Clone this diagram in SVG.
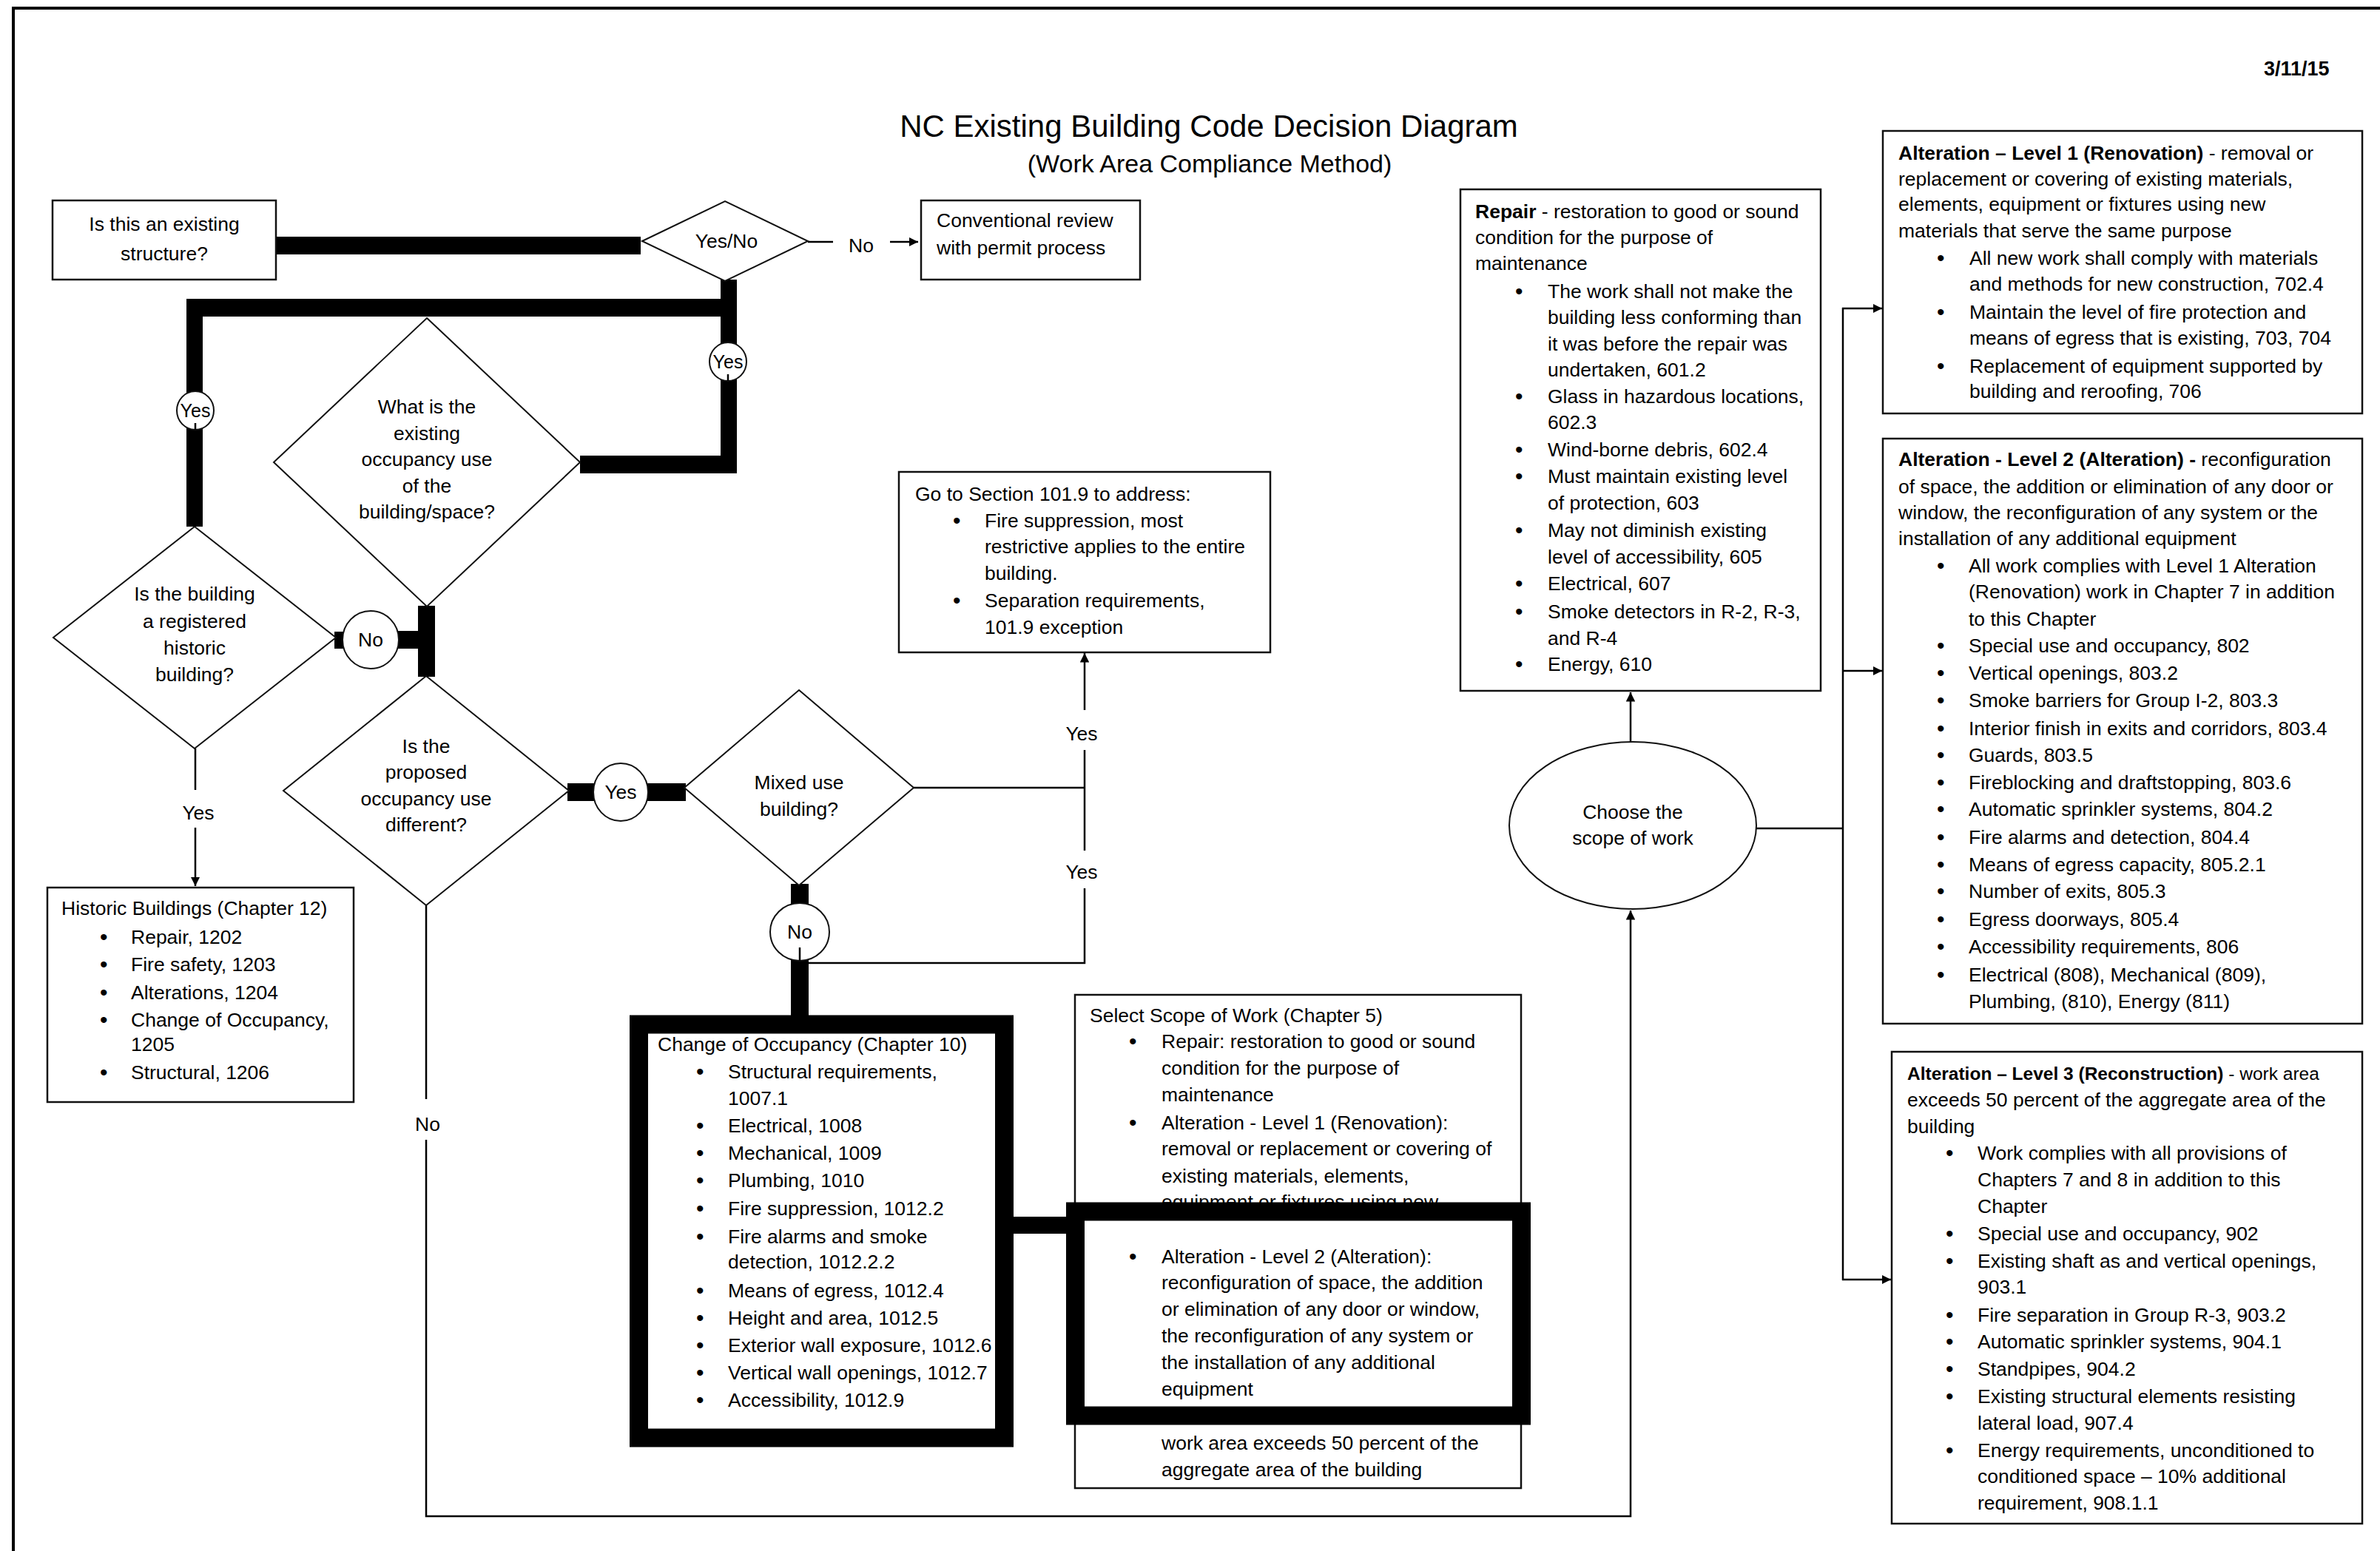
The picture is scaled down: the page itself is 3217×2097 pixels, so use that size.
<svg xmlns="http://www.w3.org/2000/svg" width="3217" height="2097" viewBox="0 0 3217 2097">
<defs>
<style>
.t{font-family:"Liberation Sans",Arial,sans-serif;font-size:26.5px;fill:#000}
.c{text-anchor:middle}
.b{font-weight:bold}
.u{font-size:30px}
.box{fill:#fff;stroke:#111;stroke-width:2.5}
.dia{fill:#fff;stroke:#111;stroke-width:2}
.ln{stroke:#000;stroke-width:2.5;fill:none}
.tk{fill:#000}
.thickbox{fill:#fff;stroke:#000;stroke-width:25}
</style>
<marker id="ah" viewBox="0 0 10 10" refX="10" refY="5" markerWidth="5" markerHeight="5" markerUnits="strokeWidth" orient="auto"><path d="M0,0 L10,5 L0,10 z" fill="#000"/></marker>
</defs>
<rect x="0" y="0" width="3217" height="2097" fill="#fff"/>
<g id="frame">
<line x1="18" y1="11" x2="3217" y2="11" stroke="#000" stroke-width="4"/>
<line x1="18" y1="9" x2="18" y2="2097" stroke="#000" stroke-width="4"/>
</g>
<g id="title">
<text class="t c" x="1634" y="185" style="font-size:42px">NC Existing Building Code Decision Diagram</text>
<text class="t c" x="1635" y="233" style="font-size:34px">(Work Area Compliance Method)</text>
<text class="t b" x="3060" y="102" style="font-size:27px">3/11/15</text>
</g>
<g id="connectors">
<rect class="tk" x="373" y="320" width="493" height="24"/>
<rect class="tk" x="974" y="378" width="22" height="50"/>
<rect class="tk" x="252" y="404" width="744" height="24"/>
<rect class="tk" x="252" y="404" width="22" height="308"/>
<rect class="tk" x="974" y="404" width="22" height="236"/>
<rect class="tk" x="784" y="616" width="212" height="24"/>
<rect class="tk" x="565" y="819" width="23" height="96"/>
<rect class="tk" x="452" y="854" width="14" height="23"/>
<rect class="tk" x="536" y="853" width="30" height="24"/>
<rect class="tk" x="767" y="1059" width="38" height="24"/>
<rect class="tk" x="874" y="1059" width="53" height="24"/>
<rect class="tk" x="1069" y="1195" width="24" height="30"/>
<rect class="tk" x="1069" y="1295" width="24" height="80"/>
<rect class="tk" x="1368" y="1645" width="75" height="23"/>
<line class="ln" x1="1092" y1="327" x2="1126" y2="327"/>
<line class="ln" x1="1203" y1="327" x2="1241" y2="327" marker-end="url(#ah)"/>
<line class="ln" x1="264" y1="1012" x2="264" y2="1068"/>
<line class="ln" x1="264" y1="1119" x2="264" y2="1198" marker-end="url(#ah)"/>
<line class="ln" x1="576" y1="1224" x2="576" y2="1486"/>
<polyline class="ln" points="576,1541 576,2050 2204,2050 2204,1231" marker-end="url(#ah)"/>
<line class="ln" x1="1235" y1="1065" x2="1466" y2="1065"/>
<polyline class="ln" points="1089,1302 1466,1302 1466,1201"/>
<line class="ln" x1="1466" y1="1150" x2="1466" y2="1014"/>
<line class="ln" x1="1466" y1="960" x2="1466" y2="883" marker-end="url(#ah)"/>
<line class="ln" x1="2204" y1="1003" x2="2204" y2="936" marker-end="url(#ah)"/>
<line class="ln" x1="2373" y1="1120" x2="2491" y2="1120"/>
<line class="ln" x1="2491" y1="416" x2="2491" y2="1731"/>
<line class="ln" x1="2490" y1="417" x2="2544" y2="417" marker-end="url(#ah)"/>
<line class="ln" x1="2490" y1="907" x2="2544" y2="907" marker-end="url(#ah)"/>
<line class="ln" x1="2490" y1="1730" x2="2556" y2="1730" marker-end="url(#ah)"/>
</g>
<g id="lbl-no1"><text class="t c" x="1164" y="341">No</text></g>
<g id="lbl-yes-hist"><text class="t c" x="268" y="1108">Yes</text></g>
<g id="lbl-no-prop"><text class="t c" x="578" y="1529">No</text></g>
<g id="lbl-yes-mixed1"><text class="t c" x="1462" y="1001">Yes</text></g>
<g id="lbl-yes-mixed2"><text class="t c" x="1462" y="1188">Yes</text></g>
<g id="n-existing">
<rect class="box" x="71" y="271" width="302" height="107"/>
<text class="t c" x="222" y="312">Is this an existing</text>
<text class="t c" x="222" y="352">structure?</text>
</g>
<g id="n-yesno">
<polygon class="dia" points="868,326 980,272 1092,326 980,380"/>
<text class="t c" x="982" y="335">Yes/No</text>
</g>
<g id="n-conventional">
<rect class="box" x="1245" y="271" width="296" height="107"/>
<text class="t" x="1266" y="307">Conventional review</text>
<text class="t" x="1266" y="344">with permit process</text>
</g>
<g id="n-yes-circle-r">
<ellipse class="dia" cx="984" cy="489" rx="25" ry="26"/>
<line class="ln" x1="984" y1="506" x2="984" y2="515" stroke-width="2"/>
<text class="t c" x="984" y="498" style="font-size:25px">Yes</text>
</g>
<g id="n-yes-circle-l">
<ellipse class="dia" cx="264" cy="555" rx="25" ry="26"/>
<line class="ln" x1="264" y1="572" x2="264" y2="581" stroke-width="2"/>
<text class="t c" x="264" y="564" style="font-size:25px">Yes</text>
</g>
<g id="n-what">
<polygon class="dia" points="577,430 784,625 577,820 370,625"/>
<text class="t c" x="577" y="559">What is the</text>
<text class="t c" x="577" y="595">existing</text>
<text class="t c" x="577" y="630">occupancy use</text>
<text class="t c" x="577" y="666">of the</text>
<text class="t c" x="577" y="701">building/space?</text>
</g>
<g id="n-historic-q">
<polygon class="dia" points="263,712 454,862 263,1012 72,862"/>
<text class="t c" x="263" y="812">Is the building</text>
<text class="t c" x="263" y="849">a registered</text>
<text class="t c" x="263" y="885">historic</text>
<text class="t c" x="263" y="921">building?</text>
</g>
<g id="n-no-circle-1">
<ellipse class="dia" cx="501" cy="865" rx="38" ry="39"/>
<text class="t c" x="501" y="874">No</text>
</g>
<g id="n-proposed">
<polygon class="dia" points="576,914 769,1069 576,1224 383,1069"/>
<text class="t c" x="576" y="1018">Is the</text>
<text class="t c" x="576" y="1053">proposed</text>
<text class="t c" x="576" y="1089">occupancy use</text>
<text class="t c" x="576" y="1124">different?</text>
</g>
<g id="n-yes-circle-2">
<ellipse class="dia" cx="839" cy="1071" rx="37" ry="39"/>
<text class="t c" x="839" y="1080">Yes</text>
</g>
<g id="n-mixed">
<polygon class="dia" points="1080,933 1235,1065 1080,1197 925,1065"/>
<text class="t c" x="1080" y="1067">Mixed use</text>
<text class="t c" x="1080" y="1103">building?</text>
</g>
<g id="n-no-circle-2">
<ellipse class="dia" cx="1081" cy="1260" rx="40" ry="39"/>
<line class="ln" x1="1081" y1="1281" x2="1081" y2="1299" stroke-width="2"/>
<text class="t c" x="1081" y="1269">No</text>
</g>
<g id="n-goto">
<rect class="box" x="1215" y="638" width="502" height="244"/>
<text class="t" x="1237" y="677">Go to Section 101.9 to address:</text>
<text class="t u" x="1288" y="714">•</text><text class="t" x="1331" y="713">Fire suppression, most</text>
<text class="t" x="1331" y="748">restrictive applies to the entire</text>
<text class="t" x="1331" y="784">building.</text>
<text class="t u" x="1288" y="822">•</text><text class="t" x="1331" y="821">Separation requirements,</text>
<text class="t" x="1331" y="857">101.9 exception</text>
</g>
<g id="n-historic">
<rect class="box" x="64" y="1200" width="414" height="290"/>
<text class="t" x="83" y="1237">Historic Buildings (Chapter 12)</text>
<text class="t u" x="135" y="1277">•</text><text class="t" x="177" y="1276">Repair, 1202</text>
<text class="t u" x="135" y="1314">•</text><text class="t" x="177" y="1313">Fire safety, 1203</text>
<text class="t u" x="135" y="1352">•</text><text class="t" x="177" y="1351">Alterations, 1204</text>
<text class="t u" x="135" y="1389">•</text><text class="t" x="177" y="1388">Change of Occupancy,</text>
<text class="t" x="177" y="1421">1205</text>
<text class="t u" x="135" y="1460">•</text><text class="t" x="177" y="1459">Structural, 1206</text>
</g>
<g id="n-change-occupancy">
<rect class="thickbox" x="863.5" y="1385" width="494" height="559"/>
<text class="t" x="889" y="1421">Change of Occupancy (Chapter 10)</text>
<text class="t u" x="941" y="1459">•</text><text class="t" x="984" y="1458">Structural requirements,</text>
<text class="t" x="984" y="1494">1007.1</text>
<text class="t u" x="941" y="1532">•</text><text class="t" x="984" y="1531">Electrical, 1008</text>
<text class="t u" x="941" y="1569">•</text><text class="t" x="984" y="1568">Mechanical, 1009</text>
<text class="t u" x="941" y="1606">•</text><text class="t" x="984" y="1605">Plumbing, 1010</text>
<text class="t u" x="941" y="1644">•</text><text class="t" x="984" y="1643">Fire suppression, 1012.2</text>
<text class="t u" x="941" y="1682">•</text><text class="t" x="984" y="1681">Fire alarms and smoke</text>
<text class="t" x="984" y="1715">detection, 1012.2.2</text>
<text class="t u" x="941" y="1755">•</text><text class="t" x="984" y="1754">Means of egress, 1012.4</text>
<text class="t u" x="941" y="1792">•</text><text class="t" x="984" y="1791">Height and area, 1012.5</text>
<text class="t u" x="941" y="1829">•</text><text class="t" x="984" y="1828">Exterior wall exposure, 1012.6</text>
<text class="t u" x="941" y="1866">•</text><text class="t" x="984" y="1865">Vertical wall openings, 1012.7</text>
<text class="t u" x="941" y="1903">•</text><text class="t" x="984" y="1902">Accessibility, 1012.9</text>
</g>
<g id="n-select-scope">
<rect class="box" x="1453" y="1345" width="603" height="667"/>
<text class="t" x="1473" y="1382">Select Scope of Work (Chapter 5)</text>
<text class="t u" x="1526" y="1418">•</text><text class="t" x="1570" y="1417">Repair: restoration to good or sound</text>
<text class="t" x="1570" y="1453">condition for the purpose of</text>
<text class="t" x="1570" y="1489">maintenance</text>
<text class="t u" x="1526" y="1528">•</text><text class="t" x="1570" y="1527">Alteration - Level  1 (Renovation):</text>
<text class="t" x="1570" y="1562">removal or replacement or covering of</text>
<text class="t" x="1570" y="1599">existing materials, elements,</text>
<text class="t" x="1570" y="1634">equipment or fixtures using new</text>
<text class="t" x="1570" y="1960">work area exceeds 50 percent of the</text>
<text class="t" x="1570" y="1996">aggregate area of the building</text>
</g>
<g id="n-level2-highlight">
<rect class="thickbox" x="1453.5" y="1638" width="603" height="276"/>
<text class="t u" x="1526" y="1709">•</text><text class="t" x="1570" y="1708">Alteration - Level 2 (Alteration):</text>
<text class="t" x="1570" y="1743">reconfiguration of space, the addition</text>
<text class="t" x="1570" y="1779">or elimination of any door or window,</text>
<text class="t" x="1570" y="1815">the reconfiguration of any system or</text>
<text class="t" x="1570" y="1851">the installation of any additional</text>
<text class="t" x="1570" y="1887">equipment</text>
</g>
<g id="n-choose">
<ellipse class="dia" cx="2207" cy="1116" rx="167" ry="113"/>
<text class="t c" x="2207" y="1107">Choose the</text>
<text class="t c" x="2207" y="1142">scope of work</text>
</g>
<g id="n-repair">
<rect class="box" x="1974" y="256" width="487" height="678"/>
<text class="t" x="1994" y="295"><tspan class="b">Repair</tspan> - restoration to good or sound</text>
<text class="t" x="1994" y="330">condition for the purpose of</text>
<text class="t" x="1994" y="365">maintenance</text>
<text class="t u" x="2048" y="404">•</text><text class="t" x="2092" y="403">The work shall not make the</text>
<text class="t" x="2092" y="438">building less conforming than</text>
<text class="t" x="2092" y="474">it was before the repair was</text>
<text class="t" x="2092" y="509">undertaken, 601.2</text>
<text class="t u" x="2048" y="546">•</text><text class="t" x="2092" y="545">Glass in hazardous locations,</text>
<text class="t" x="2092" y="580">602.3</text>
<text class="t u" x="2048" y="618">•</text><text class="t" x="2092" y="617">Wind-borne debris, 602.4</text>
<text class="t u" x="2048" y="654">•</text><text class="t" x="2092" y="653">Must maintain existing level</text>
<text class="t" x="2092" y="689">of protection, 603</text>
<text class="t u" x="2048" y="727">•</text><text class="t" x="2092" y="726">May not diminish existing</text>
<text class="t" x="2092" y="762">level of accessibility, 605</text>
<text class="t u" x="2048" y="799">•</text><text class="t" x="2092" y="798">Electrical, 607</text>
<text class="t u" x="2048" y="837">•</text><text class="t" x="2092" y="836">Smoke detectors in R-2, R-3,</text>
<text class="t" x="2092" y="872">and R-4</text>
<text class="t u" x="2048" y="908">•</text><text class="t" x="2092" y="907">Energy, 610</text>
</g>
<g id="n-level1">
<rect class="box" x="2545" y="177" width="648" height="382"/>
<text class="t" x="2566" y="216"><tspan class="b">Alteration – Level 1 (Renovation)</tspan> - removal or</text>
<text class="t" x="2566" y="251">replacement or covering of existing materials,</text>
<text class="t" x="2566" y="285">elements, equipment or fixtures using new</text>
<text class="t" x="2566" y="321">materials that serve the same purpose</text>
<text class="t u" x="2618" y="359">•</text><text class="t" x="2662" y="358">All new work shall comply with materials</text>
<text class="t" x="2662" y="393">and methods for new construction, 702.4</text>
<text class="t u" x="2618" y="432">•</text><text class="t" x="2662" y="431">Maintain the level of fire protection and</text>
<text class="t" x="2662" y="466">means of egress that is existing, 703, 704</text>
<text class="t u" x="2618" y="505">•</text><text class="t" x="2662" y="504">Replacement of equipment supported by</text>
<text class="t" x="2662" y="538">building and reroofing, 706</text>
</g>
<g id="n-level2">
<rect class="box" x="2545" y="593" width="648" height="791"/>
<text class="t" x="2566" y="630"><tspan class="b">Alteration - Level 2 (Alteration) -</tspan> reconfiguration</text>
<text class="t" x="2566" y="667">of space, the addition or elimination of any door or</text>
<text class="t" x="2566" y="702">window, the reconfiguration of any system or the</text>
<text class="t" x="2566" y="737">installation of any additional equipment</text>
<text class="t u" x="2618" y="775">•</text><text class="t" x="2661" y="774">All work complies with Level 1 Alteration</text>
<text class="t" x="2661" y="809">(Renovation) work in Chapter 7 in addition</text>
<text class="t" x="2661" y="846">to this Chapter</text>
<text class="t u" x="2618" y="883">•</text><text class="t" x="2661" y="882">Special use and occupancy, 802</text>
<text class="t u" x="2618" y="920">•</text><text class="t" x="2661" y="919">Vertical openings, 803.2</text>
<text class="t u" x="2618" y="957">•</text><text class="t" x="2661" y="956">Smoke barriers for Group I-2, 803.3</text>
<text class="t u" x="2618" y="995">•</text><text class="t" x="2661" y="994">Interior finish in exits and corridors, 803.4</text>
<text class="t u" x="2618" y="1031">•</text><text class="t" x="2661" y="1030">Guards, 803.5</text>
<text class="t u" x="2618" y="1068">•</text><text class="t" x="2661" y="1067">Fireblocking and draftstopping, 803.6</text>
<text class="t u" x="2618" y="1104">•</text><text class="t" x="2661" y="1103">Automatic sprinkler systems, 804.2</text>
<text class="t u" x="2618" y="1142">•</text><text class="t" x="2661" y="1141">Fire alarms and detection, 804.4</text>
<text class="t u" x="2618" y="1179">•</text><text class="t" x="2661" y="1178">Means of egress capacity, 805.2.1</text>
<text class="t u" x="2618" y="1215">•</text><text class="t" x="2661" y="1214">Number of exits, 805.3</text>
<text class="t u" x="2618" y="1253">•</text><text class="t" x="2661" y="1252">Egress doorways, 805.4</text>
<text class="t u" x="2618" y="1290">•</text><text class="t" x="2661" y="1289">Accessibility requirements, 806</text>
<text class="t u" x="2618" y="1328">•</text><text class="t" x="2661" y="1327">Electrical (808), Mechanical (809),</text>
<text class="t" x="2661" y="1363">Plumbing, (810), Energy (811)</text>
</g>
<g id="n-level3">
<rect class="box" x="2557" y="1422" width="636" height="638"/>
<text class="t" x="2578" y="1460" style="font-size:24.5px"><tspan class="b">Alteration – Level 3 (Reconstruction)</tspan> - work area</text>
<text class="t" x="2578" y="1496">exceeds 50 percent of the aggregate area of the</text>
<text class="t" x="2578" y="1532">building</text>
<text class="t u" x="2630" y="1569">•</text><text class="t" x="2673" y="1568">Work complies with all provisions of</text>
<text class="t" x="2673" y="1604">Chapters 7 and 8 in addition to this</text>
<text class="t" x="2673" y="1640">Chapter</text>
<text class="t u" x="2630" y="1678">•</text><text class="t" x="2673" y="1677">Special use and occupancy, 902</text>
<text class="t u" x="2630" y="1715">•</text><text class="t" x="2673" y="1714">Existing shaft as and vertical openings,</text>
<text class="t" x="2673" y="1749">903.1</text>
<text class="t u" x="2630" y="1788">•</text><text class="t" x="2673" y="1787">Fire separation in Group R-3, 903.2</text>
<text class="t u" x="2630" y="1824">•</text><text class="t" x="2673" y="1823">Automatic sprinkler systems, 904.1</text>
<text class="t u" x="2630" y="1861">•</text><text class="t" x="2673" y="1860">Standpipes, 904.2</text>
<text class="t u" x="2630" y="1898">•</text><text class="t" x="2673" y="1897">Existing structural elements resisting</text>
<text class="t" x="2673" y="1933">lateral load, 907.4</text>
<text class="t u" x="2630" y="1971">•</text><text class="t" x="2673" y="1970">Energy requirements, unconditioned to</text>
<text class="t" x="2673" y="2005">conditioned space – 10% additional</text>
<text class="t" x="2673" y="2041">requirement, 908.1.1</text>
</g>
</svg>
